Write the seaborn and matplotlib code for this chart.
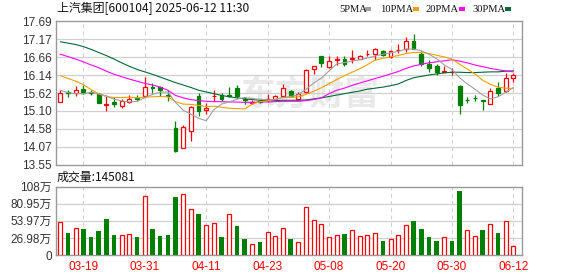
import numpy as np
import matplotlib
matplotlib.use("Agg")
import matplotlib.pyplot as plt
from matplotlib.patches import Rectangle
import seaborn as sns

# ---------------- data ----------------
dates = ["03-14", "03-17", "03-18", "03-19", "03-20", "03-21", "03-24", "03-25", "03-26", "03-27",
         "03-28", "03-31", "04-01", "04-02", "04-03", "04-07", "04-08", "04-09", "04-10", "04-11",
         "04-14", "04-15", "04-16", "04-17", "04-18", "04-21", "04-22", "04-23", "04-24", "04-25",
         "04-28", "04-29", "04-30", "05-06", "05-07", "05-08", "05-09", "05-12", "05-13", "05-14",
         "05-15", "05-16", "05-19", "05-20", "05-21", "05-22", "05-23", "05-26", "05-27", "05-28",
         "05-29", "05-30", "06-03", "06-04", "06-05", "06-06", "06-09", "06-10", "06-11", "06-12"]
tick_dates = ["03-19", "03-31", "04-11", "04-23", "05-08", "05-20", "05-30", "06-12"]

opens = [15.35, 15.65, 15.63, 15.73, 15.66, 15.59, 15.28, 15.36, 15.25, 15.36,
         15.48, 15.53, 15.79, 15.80, 15.56, 14.62, 14.03, 14.52, 15.52, 15.12,
         15.52, 15.55, 15.55, 15.75, 15.45, 15.34, 15.38, 15.42, 15.44, 15.53,
         15.68, 15.45, 15.64, 16.30, 16.68, 16.37, 16.57, 16.59, 16.61, 16.61,
         16.74, 16.74, 16.83, 16.67, 16.85, 16.89, 17.11, 16.75, 16.46, 16.40,
         16.24, 16.22, 15.83, 15.43, 15.49, 15.42, 15.31, 15.75, 15.67, 16.05]
highs = [15.70, 15.72, 15.81, 15.84, 15.70, 15.63, 15.55, 15.50, 15.46, 15.55,
         15.57, 16.08, 15.91, 15.83, 15.72, 14.81, 14.71, 15.24, 15.61, 15.33,
         15.71, 15.61, 15.80, 15.85, 15.50, 15.42, 15.40, 15.58, 15.57, 15.88,
         15.70, 15.66, 16.30, 16.41, 16.70, 16.69, 16.68, 16.68, 16.87, 16.73,
         16.85, 16.92, 16.85, 16.86, 17.03, 17.24, 17.33, 16.82, 16.57, 16.46,
         16.41, 16.35, 15.84, 15.50, 15.56, 15.43, 15.75, 15.94, 16.20, 16.19]
lows = [15.35, 15.50, 15.53, 15.60, 15.56, 15.34, 15.10, 15.23, 15.19, 15.33,
        15.40, 15.53, 15.62, 15.52, 15.38, 13.92, 14.02, 14.23, 14.96, 15.01,
        15.38, 15.38, 15.50, 15.48, 15.29, 15.29, 15.33, 15.36, 15.42, 15.51,
        15.50, 15.42, 15.62, 16.18, 16.37, 16.33, 16.44, 16.40, 16.48, 16.59,
        16.68, 16.57, 16.68, 16.62, 16.77, 16.81, 16.88, 16.40, 16.23, 16.14,
        16.23, 16.14, 15.00, 15.33, 15.38, 15.14, 15.30, 15.53, 15.66, 15.93]
closes = [15.61, 15.61, 15.72, 15.63, 15.63, 15.34, 15.31, 15.29, 15.40, 15.45,
          15.46, 15.80, 15.77, 15.70, 15.53, 13.94, 14.65, 15.22, 15.09, 15.18,
          15.54, 15.45, 15.53, 15.52, 15.43, 15.36, 15.37, 15.44, 15.54, 15.75,
          15.52, 15.59, 16.27, 16.40, 16.49, 16.54, 16.59, 16.46, 16.63, 16.69,
          16.76, 16.90, 16.73, 16.83, 16.87, 17.13, 16.89, 16.46, 16.33, 16.22,
          16.26, 16.23, 15.28, 15.41, 15.47, 15.39, 15.69, 15.61, 16.06, 16.14]

ma5 = [15.70, 15.63, 15.60, 15.60, 15.64, 15.59, 15.53, 15.44, 15.39, 15.36,
       15.38, 15.48, 15.58, 15.64, 15.65, 15.35, 15.12, 15.01, 14.89, 14.82,
       15.14, 15.30, 15.36, 15.44, 15.49, 15.46, 15.44, 15.42, 15.43, 15.49,
       15.52, 15.57, 15.73, 15.91, 16.05, 16.26, 16.46, 16.50, 16.54, 16.58,
       16.63, 16.69, 16.74, 16.78, 16.82, 16.89, 16.89, 16.84, 16.74, 16.61,
       16.43, 16.30, 16.06, 15.88, 15.73, 15.56, 15.45, 15.51, 15.64, 15.78]
ma10 = [16.12, 16.04, 15.96, 15.86, 15.72, 15.60, 15.52, 15.49, 15.49, 15.50,
        15.48, 15.50, 15.51, 15.52, 15.51, 15.37, 15.30, 15.29, 15.26, 15.23,
        15.24, 15.21, 15.18, 15.17, 15.16, 15.30, 15.37, 15.39, 15.44, 15.49,
        15.49, 15.51, 15.58, 15.67, 15.77, 15.89, 16.01, 16.12, 16.22, 16.32,
        16.44, 16.57, 16.62, 16.66, 16.70, 16.76, 16.79, 16.79, 16.76, 16.71,
        16.66, 16.60, 16.45, 16.31, 16.17, 15.99, 15.87, 15.79, 15.76, 15.75]
ma20 = [16.74, 16.67, 16.60, 16.52, 16.43, 16.35, 16.25, 16.16, 16.09, 16.02,
        15.96, 15.90, 15.85, 15.79, 15.70, 15.55, 15.48, 15.43, 15.40, 15.38,
        15.37, 15.37, 15.36, 15.36, 15.35, 15.35, 15.36, 15.36, 15.37, 15.38,
        15.38, 15.38, 15.40, 15.43, 15.48, 15.60, 15.70, 15.76, 15.84, 15.91,
        15.97, 16.04, 16.10, 16.17, 16.24, 16.33, 16.40, 16.45, 16.49, 16.52,
        16.55, 16.58, 16.54, 16.49, 16.43, 16.38, 16.33, 16.29, 16.26, 16.23]
ma30 = [17.10, 17.06, 17.02, 16.96, 16.88, 16.79, 16.70, 16.60, 16.49, 16.39,
        16.30, 16.23, 16.16, 16.08, 16.00, 15.92, 15.85, 15.78, 15.70, 15.65,
        15.60, 15.55, 15.51, 15.48, 15.45, 15.43, 15.41, 15.40, 15.40, 15.41,
        15.41, 15.41, 15.42, 15.45, 15.48, 15.52, 15.56, 15.60, 15.64, 15.68,
        15.73, 15.76, 15.79, 15.83, 15.88, 15.98, 16.06, 16.10, 16.14, 16.17,
        16.20, 16.22, 16.22, 16.21, 16.21, 16.22, 16.23, 16.23, 16.25, 16.26]

# volume in 万手
volumes = [52.2, 35.3, 42.1, 41.1, 28.4, 37.9, 56.9, 31.6, 31.1, 32.7,
           28.4, 93.2, 41.1, 30.0, 31.6, 91.7, 96.4, 72.2, 65.3, 47.4,
           50.6, 28.4, 64.8, 45.8, 25.3, 17.4, 20.5, 36.4, 30.0, 42.1,
           25.3, 20.5, 75.9, 55.3, 49.0, 28.4, 31.1, 33.7, 39.5, 30.0,
           31.6, 34.8, 22.4, 24.8, 31.1, 46.9, 53.7, 41.1, 28.4, 22.1,
           27.9, 22.1, 101.2, 39.0, 29.5, 39.5, 48.5, 34.8, 53.2, 14.5]
vol_up = [1, 0, 1, 0, 0, 0, 0, 0, 1, 1,
          0, 1, 0, 0, 0, 0, 1, 1, 0, 1,
          1, 0, 1, 0, 0, 1, 0, 1, 1, 1,
          0, 1, 1, 1, 1, 1, 1, 0, 1, 1,
          1, 1, 0, 1, 1, 1, 0, 0, 0, 0,
          1, 0, 0, 1, 1, 0, 1, 0, 1, 1]

price_ticks = [13.55, 14.0675, 14.585, 15.1025, 15.62, 16.1375, 16.655, 17.1725, 17.69]
price_labels = ["13.55", "14.07", "14.58", "15.10", "15.62", "16.14", "16.66", "17.17", "17.69"]
vol_ticks = [0, 26.98, 53.97, 80.95, 107.93]
vol_labels = ["0", "26.98万", "53.97万", "80.95万", "108万"]

title = "上汽集团[600104] 2025-06-12 11:30"
vol_title = "成交量:145081"
ma_names = ["5PMA", "10PMA", "20PMA", "30PMA"]

# ---------------- style ----------------
sns.set_style("white")
plt.rcParams["font.family"] = ["Liberation Sans", "Noto Sans CJK SC", "DejaVu Sans"]

RED = "#ff0000"
GREEN = "#008000"
MA_COLORS = ["#a0a0a0", "#f0a000", "#ff00ff", "#006a35"]
GRID = "#d0d0d0"
FRAME = "#999999"

W, H = 578, 276
fig = plt.figure(figsize=(W / 100, H / 100), dpi=100)
fig.patch.set_facecolor("white")

def fx(px):
    return px / W

def fy(py):
    return 1 - py / H

L, R = 56, 522.3
ax_p = fig.add_axes([fx(L), fy(164.7), fx(R - L), (164.7 - 21.3) / H])
ax_v = fig.add_axes([fx(L), fy(255), fx(R - L), (255 - 186.7) / H])

x = np.arange(len(dates))
o = np.array(opens)
c = np.array(closes)
hi = np.array(highs)
lo = np.array(lows)
up = c >= o
XL = (-0.56, 60.16)
tick_idx = [dates.index(d) for d in tick_dates]

for ax in (ax_p, ax_v):
    ax.set_xlim(*XL)
    ax.set_facecolor("white")
    for s in ax.spines.values():
        s.set_color(FRAME)
        s.set_linewidth(1.0)
    ax.tick_params(length=0, pad=3, labelsize=8.5, colors="#333333")
    for xi in tick_idx:
        ax.axvline(xi, color=GRID, lw=0.8, ls=(0, (3.5, 3.0)), zorder=0.6)

# ---------- price panel ----------
ax_p.set_ylim(13.55, 17.69)
ax_p.set_yticks(price_ticks)
ax_p.set_yticklabels(price_labels)
ax_p.set_xticks([])
for t in price_ticks[1:-1]:
    ax_p.axhline(t, color=GRID, lw=0.9, zorder=0.6)

ax_p.text(fx(310), fy(94), "东方财富", transform=fig.transFigure, ha="center", va="center",
          fontsize=25, fontweight="bold", color="#e9e9e9", zorder=0.5,
          family=["Noto Sans CJK SC", "DejaVu Sans"])

cols = [RED if u else GREEN for u in up]
ax_p.vlines(x, lo, hi, colors=cols, lw=0.9, zorder=2)
bb = np.minimum(o, c)
bh = np.maximum(np.abs(c - o), 0.004)
ax_p.bar(x[up], bh[up], bottom=bb[up], width=0.5, facecolor="white", edgecolor=RED, lw=0.9, zorder=3)
ax_p.bar(x[~up], bh[~up], bottom=bb[~up], width=0.5, facecolor=GREEN, edgecolor=GREEN, lw=0.9, zorder=3)

for vals, col in zip([ma30, ma20, ma10, ma5], MA_COLORS[::-1]):
    sns.lineplot(x=x, y=vals, ax=ax_p, color=col, lw=0.8, zorder=4, legend=False)
ax_p.set_ylabel("")
ax_p.set_xlabel("")

# ---------- volume panel ----------
ax_v.set_ylim(0, 107.93)
ax_v.set_yticks(vol_ticks)
ax_v.set_yticklabels(vol_labels)
for t in vol_ticks[1:-1]:
    ax_v.axhline(t, color=GRID, lw=0.9, zorder=0.6)
vu = np.array(vol_up, dtype=bool)
vv = np.array(volumes)
ax_v.bar(x[vu], vv[vu], width=0.52, facecolor="white", edgecolor=RED, lw=0.9, zorder=3)
ax_v.bar(x[~vu], vv[~vu], width=0.6, facecolor=GREEN, edgecolor=GREEN, lw=0.0, zorder=3)
ax_v.set_xticks(tick_idx)
ax_v.set_xticklabels(tick_dates)
ax_v.tick_params(axis="x", colors=RED, labelsize=8.5, pad=4)

# ---------- texts ----------
fig.text(fx(57), fy(8.5), title, ha="left", va="center", fontsize=8.6, color="#111111",
         family=["Noto Sans CJK SC", "DejaVu Sans"])
fig.text(fx(57), fy(177.5), vol_title, ha="left", va="center", fontsize=8.6, color="#111111",
         family=["Noto Sans CJK SC", "DejaVu Sans"])

leg_x = [339, 380, 426, 472]
mark_x = [365, 413, 459, 505]
for name, lx, mx, col in zip(ma_names, leg_x, mark_x, MA_COLORS):
    fig.text(fx(lx), fy(9), name, ha="left", va="center", fontsize=7.6, color="#111111",
             family=["Liberation Serif", "DejaVu Serif"])
    fig.patches.append(Rectangle((fx(mx), fy(10.5)), 6 / W, 3 / H, transform=fig.transFigure,
                                 facecolor=col, edgecolor="none"))

fig.savefig("out.png", dpi=100, facecolor="white")
